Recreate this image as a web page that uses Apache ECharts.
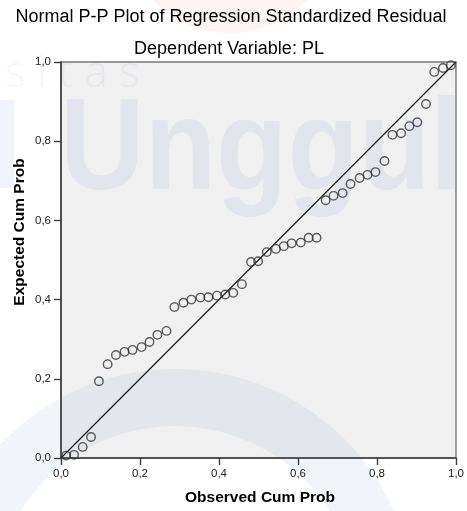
<!DOCTYPE html>
<html>
<head>
<meta charset="utf-8">
<script src="https://cdn.jsdelivr.net/npm/echarts@6/dist/echarts.min.js"></script>
<style>
html,body{margin:0;padding:0;background:#fff;}
#main{width:467px;height:511px;}
</style>
</head>
<body>
<div id="main"></div>
<script>
// ---- data ----
const mainTitle = 'Normal P-P Plot of Regression Standardized Residual';
const subTitle = 'Dependent Variable: PL';
const xName = 'Observed Cum Prob';
const yName = 'Expected Cum Prob';
const tickValues = [0, 0.2, 0.4, 0.6, 0.8, 1.0];
const tickLabels = ['0,0', '0,2', '0,4', '0,6', '0,8', '1,0'];
const observed = [0.013, 0.033, 0.055, 0.076, 0.096, 0.118, 0.139, 0.161, 0.181, 0.204,
  0.224, 0.244, 0.267, 0.287, 0.310, 0.330, 0.353, 0.373, 0.395, 0.416,
  0.436, 0.458, 0.481, 0.499, 0.521, 0.544, 0.564, 0.584, 0.607, 0.627,
  0.647, 0.670, 0.690, 0.713, 0.733, 0.756, 0.776, 0.796, 0.819, 0.839,
  0.861, 0.882, 0.902, 0.924, 0.945, 0.967, 0.987];
const expected = [0.006, 0.008, 0.028, 0.053, 0.194, 0.237, 0.260, 0.268, 0.273, 0.280,
  0.293, 0.311, 0.321, 0.381, 0.392, 0.400, 0.405, 0.406, 0.410, 0.413,
  0.417, 0.439, 0.495, 0.497, 0.520, 0.528, 0.535, 0.542, 0.544, 0.556,
  0.556, 0.651, 0.662, 0.669, 0.692, 0.707, 0.715, 0.722, 0.750, 0.816,
  0.820, 0.838, 0.848, 0.894, 0.975, 0.985, 0.992];
const refLineX = [0, 1];
const refLineY = [0, 1];

const points = observed.map((x, i) => [x, expected[i]]);
const refLine = refLineX.map((x, i) => [x, refLineY[i]]);
const fmt = v => {
  const i = tickValues.findIndex(t => Math.abs(t - v) < 1e-6);
  return i >= 0 ? tickLabels[i] : '';
};

const FONT = '"Liberation Sans", Arial, sans-serif';
const wm = 'rgba(60,110,190,0.08)';

const chart = echarts.init(document.getElementById('main'), null, {renderer: 'canvas'});
const axisCommon = {
  type: 'value', min: 0, max: 1, interval: 0.2,
  axisLine: {show: true, onZero: false, lineStyle: {color: '#3c3c3c', width: 1.6}},
  axisTick: {show: true, inside: false, length: 7, lineStyle: {color: '#3c3c3c', width: 1.4}},
  axisLabel: {formatter: fmt, color: '#222', fontSize: 11.5, fontFamily: FONT, margin: 10},
  splitLine: {show: false}
};
chart.setOption({
  animation: false,
  backgroundColor: '#fff',
  grid: {
    left: 61, right: 9, top: 62, bottom: 53,
    show: true, backgroundColor: '#f0f0f0', borderColor: '#777', borderWidth: 1.4
  },
  xAxis: Object.assign({}, axisCommon),
  yAxis: Object.assign({}, axisCommon),
  graphic: [
    // faint watermark
    {type: 'circle', z: 1, silent: true, shape: {cx: 230, cy: -75, r: 108}, style: {fill: 'rgba(240,120,120,0.09)'}},
    {type: 'ring', z: 1, silent: true, shape: {cx: 175, cy: 609, r: 240, r0: 183}, style: {fill: 'rgba(60,110,190,0.07)'}},
    {type: 'rect', z: 1, silent: true, shape: {x: 0, y: 100, width: 14, height: 88}, style: {fill: wm}},
    {type: 'text', z: 1, silent: true, x: 5, y: 52,
      style: {text: 's i t a s', font: '300 44px "Open Sans", sans-serif', fill: 'rgba(60,110,190,0.06)', textVerticalAlign: 'top'}},
    {type: 'text', z: 1, silent: true, x: 60, y: 88, scaleX: 0.9,
      style: {text: 'Unggul', font: 'bold 130px ' + FONT, fill: wm, textVerticalAlign: 'top'}},
    // titles
    {type: 'text', z: 10, x: 231, y: 17.5,
      style: {text: mainTitle, font: '18px ' + FONT, fill: '#000', textAlign: 'center', textVerticalAlign: 'middle'}},
    {type: 'text', z: 10, x: 229, y: 49.5,
      style: {text: subTitle, font: '18px ' + FONT, fill: '#000', textAlign: 'center', textVerticalAlign: 'middle'}},
    // axis names
    {type: 'text', z: 10, x: 260, y: 498,
      style: {text: xName, font: 'bold 15.5px ' + FONT, fill: '#000', textAlign: 'center', textVerticalAlign: 'middle'}},
    {type: 'text', z: 10, x: 19.5, y: 232, rotation: Math.PI / 2,
      style: {text: yName, font: 'bold 15.5px ' + FONT, fill: '#000', textAlign: 'center', textVerticalAlign: 'middle'}}
  ],
  series: [
    {
      type: 'line', data: refLine, z: 3, symbol: 'none',
      lineStyle: {color: '#1a1a1a', width: 1.2}, silent: true
    },
    {
      type: 'scatter', data: points, z: 4, symbol: 'circle', symbolSize: 8.5,
      itemStyle: {color: 'rgba(0,0,0,0)', borderColor: '#333', borderWidth: 1.4}
    }
  ]
});
</script>
</body>
</html>
